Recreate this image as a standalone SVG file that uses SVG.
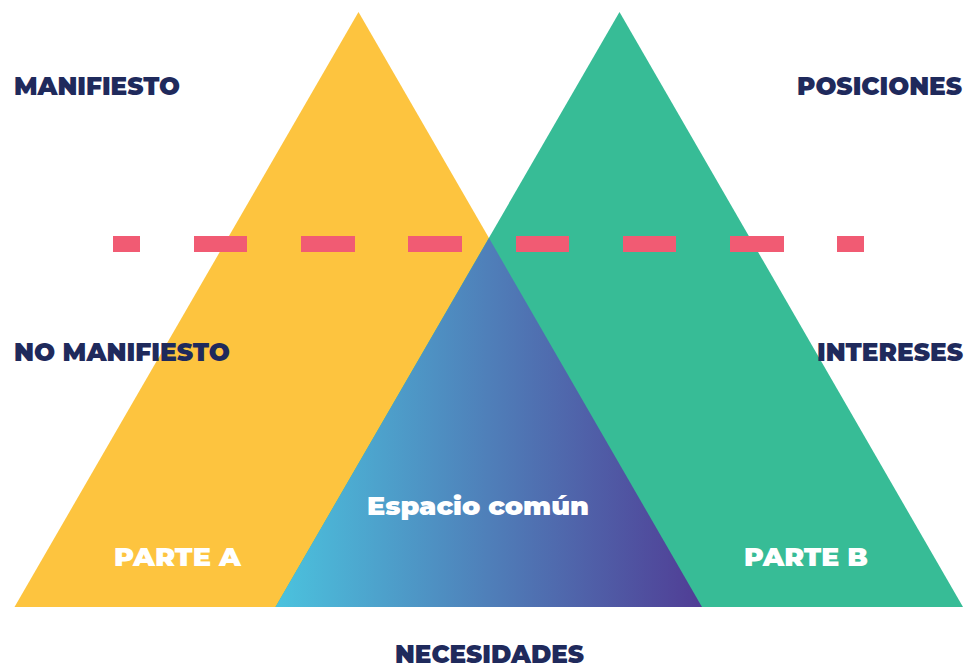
<svg xmlns="http://www.w3.org/2000/svg" width="966" height="669" viewBox="0 0 966 669">
<defs>
<linearGradient id="common" x1="275" y1="0" x2="702" y2="0" gradientUnits="userSpaceOnUse">
<stop offset="0" stop-color="#4bc3de"/>
<stop offset="0.5" stop-color="#4f7fb9"/>
<stop offset="1" stop-color="#503d95"/>
</linearGradient>
<style>
.lbl{font-family:Montserrat,"Open Sans","Liberation Sans",sans-serif;font-weight:900;font-size:25px;fill:#1f2a5c}
.wh{font-family:Montserrat,"Open Sans","Liberation Sans",sans-serif;font-weight:900;font-size:25px;fill:#ffffff}
.dash{fill:#f15b73}
</style>
</defs>
<g id="parte-a"><polygon points="358.5,12 14.5,607 702,607" fill="#fdc43f"/></g>
<g id="parte-b"><polygon points="619.5,12 275.5,607 963,607" fill="#37bc96"/></g>
<g id="espacio-comun"><polygon points="489,238 275.5,607 702,607" fill="url(#common)"/></g>
<g id="connectors">
<rect class="dash" x="113" y="236" width="27" height="16"/>
<rect class="dash" x="194" y="236" width="53" height="16"/>
<rect class="dash" x="301" y="236" width="54" height="16"/>
<rect class="dash" x="408" y="236" width="54" height="16"/>
<rect class="dash" x="516" y="236" width="53" height="16"/>
<rect class="dash" x="623" y="236" width="53" height="16"/>
<rect class="dash" x="730" y="236" width="54" height="16"/>
<rect class="dash" x="837" y="236" width="27" height="16"/>
</g>
<g id="labels">
<text class="lbl" x="14" y="95" textLength="166" lengthAdjust="spacingAndGlyphs">MANIFIESTO</text>
<text class="lbl" x="797" y="95" textLength="165" lengthAdjust="spacingAndGlyphs">POSICIONES</text>
<text class="lbl" x="14" y="361" textLength="216" lengthAdjust="spacingAndGlyphs">NO MANIFIESTO</text>
<text class="lbl" x="817" y="361" textLength="146" lengthAdjust="spacingAndGlyphs">INTERESES</text>
<text class="lbl" x="395" y="663" textLength="189" lengthAdjust="spacingAndGlyphs">NECESIDADES</text>
<text class="wh" x="367" y="515" textLength="222" lengthAdjust="spacingAndGlyphs">Espacio común</text>
<text class="wh" x="114" y="566" textLength="127" lengthAdjust="spacingAndGlyphs">PARTE A</text>
<text class="wh" x="744" y="566" textLength="124" lengthAdjust="spacingAndGlyphs">PARTE B</text>
</g>
</svg>
